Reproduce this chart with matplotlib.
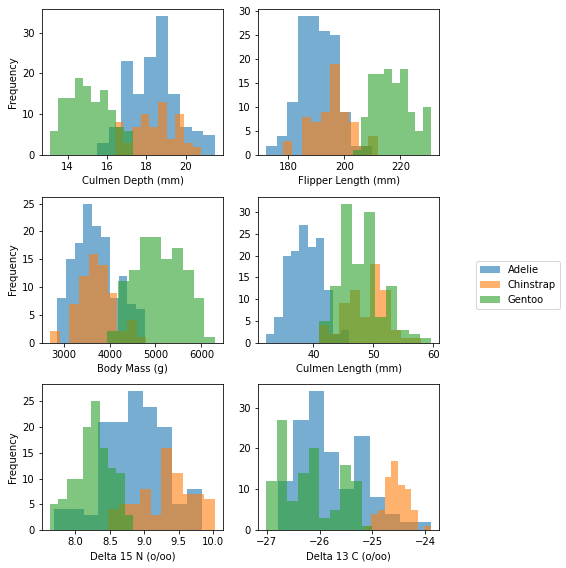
import numpy as np
import matplotlib
matplotlib.use("Agg")
import matplotlib.pyplot as plt

species = ["Adelie", "Chinstrap", "Gentoo"]
columns = ["Culmen Depth (mm)", "Flipper Length (mm)", "Body Mass (g)",
           "Culmen Length (mm)", "Delta 15 N (o/oo)", "Delta 13 C (o/oo)"]

# rango (min, max) de cada especie y cuentas de las 10 barras
depth_range = [(15.5, 21.5), (16.4, 20.8), (13.1, 17.3)]
depth_counts = [[3, 7, 23, 15, 24, 34, 15, 7, 6, 5],
                [8, 3, 7, 10, 7, 13, 4, 10, 3, 2],
                [6, 14, 14, 19, 17, 13, 16, 11, 7, 6]]

flipper_range = [(172, 210), (178, 212), (203, 231)]
flipper_counts = [[2, 4, 11, 29, 29, 26, 25, 9, 2, 2],
                  [3, 0, 8, 7, 9, 19, 9, 7, 2, 4],
                  [1, 8, 17, 17, 18, 15, 18, 9, 5, 10]]

mass_range = [(2850, 4775), (2700, 4800), (3950, 6300)]
mass_counts = [[8, 15, 18, 25, 21, 19, 8, 12, 7, 6],
               [2, 0, 7, 12, 16, 14, 9, 2, 4, 1],
               [2, 11, 13, 19, 19, 15, 17, 13, 8, 1]]

length_range = [(32.1, 46.0), (40.9, 58.0), (40.9, 59.6)]
length_counts = [[2, 6, 20, 21, 27, 22, 24, 12, 2, 3],
                 [4, 2, 9, 12, 6, 18, 12, 3, 1, 1],
                 [5, 13, 32, 18, 30, 6, 13, 3, 2, 1]]

n15_range = [(7.69, 9.83), (8.47, 10.025), (7.632, 8.834)]
n15_counts = [[4, 4, 3, 21, 21, 27, 24, 20, 5, 8],
              [4, 5, 5, 8, 3, 16, 11, 7, 7, 6],
              [5, 6, 10, 10, 20, 25, 16, 12, 11, 3]]

c13_range = [(-26.79, -23.90), (-25.146, -23.89), (-27.019, -25.002)]
c13_counts = [[12, 27, 34, 19, 10, 23, 8, 4, 2, 2],
              [1, 4, 5, 13, 17, 11, 10, 5, 0, 1],
              [12, 27, 7, 14, 20, 3, 5, 16, 12, 1]]

ranges = [depth_range, flipper_range, mass_range, length_range, n15_range, c13_range]
counts = [depth_counts, flipper_counts, mass_counts, length_counts, n15_counts, c13_counts]

fig, axes = plt.subplots(3, 2, figsize=(566 / 72, 568 / 72), dpi=72)
fig.subplots_adjust(left=0.0737, right=0.7762, bottom=0.0669, top=0.9836,
                    wspace=0.189, hspace=0.286)

for i, ax in enumerate(axes.flat):
    for j, sp in enumerate(species):
        lo, hi = ranges[i][j]
        edges = np.linspace(lo, hi, 11)
        ax.hist(edges[:-1], bins=edges, weights=counts[i][j], alpha=0.6, label=sp)
    ax.set_xlabel(columns[i])
    if i % 2 == 0:
        ax.set_ylabel("Frequency")

handles, labels = axes[0, 0].get_legend_handles_labels()
fig.legend(handles, labels, loc="center left", bbox_to_anchor=(476 / 566, 0.499),
           borderaxespad=0)

fig.savefig("out.png", dpi=72)
